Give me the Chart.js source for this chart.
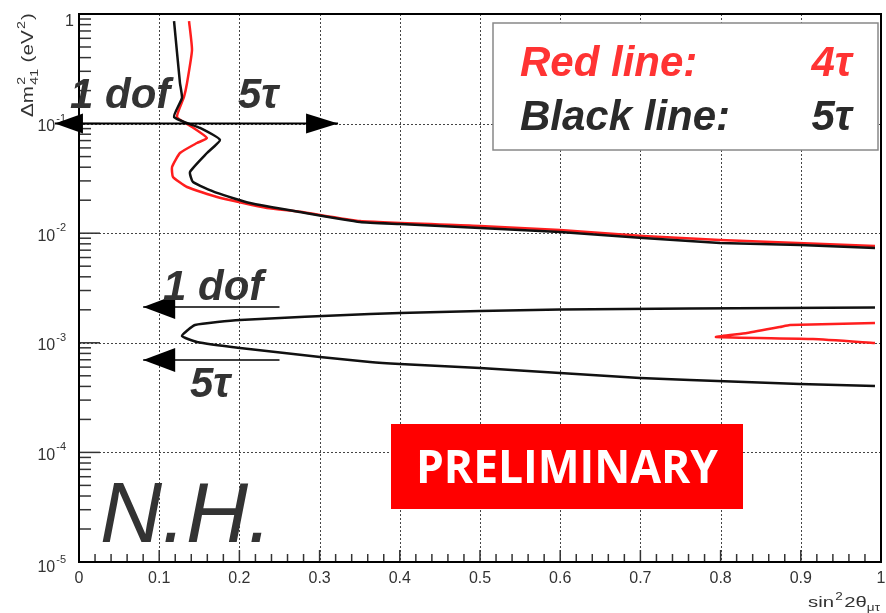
<!DOCTYPE html>
<html>
<head>
<meta charset="utf-8">
<script src="https://cdn.jsdelivr.net/npm/chart.js@4"></script>
<style>
  body { margin: 0; background: #fff; }
  canvas { display: block; }
</style>
</head>
<body>
<canvas id="limitChart" width="886" height="613"></canvas>
<script>
// 5 tau (black) and 4 tau (red) contours
const blackUpperX = [0.1185, 0.1259, 0.1284, 0.1185, 0.1509, 0.1758, 0.1596, 0.1384, 0.1421, 0.1721, 0.2132, 0.2756, 0.3504, 0.4002, 0.5, 0.5998, 0.7032, 0.7993, 0.899, 0.9925];
const blackUpperY = [0.863, 0.2346, 0.1713, 0.1149, 0.0912, 0.0709, 0.0539, 0.0362, 0.0293, 0.0233, 0.01886, 0.0156, 0.01265, 0.01213, 0.01115, 0.01025, 0.00904, 0.00814, 0.0078, 0.00733];

const redUpperX = [0.1372, 0.1409, 0.1347, 0.1309, 0.1222, 0.1409, 0.1596, 0.1471, 0.1259, 0.116, 0.1172, 0.1347, 0.1721, 0.2344, 0.2756, 0.3504, 0.5, 0.5998, 0.7032, 0.7993, 0.9925];
const redUpperY = [0.863, 0.469, 0.2346, 0.1749, 0.1148, 0.0931, 0.0739, 0.0665, 0.0539, 0.0402, 0.0326, 0.0264, 0.0214, 0.017, 0.0157, 0.0129, 0.01163, 0.0107, 0.00943, 0.00867, 0.00764];

const blackLowerX = [0.9925, 0.7618, 0.5998, 0.5, 0.4002, 0.3628, 0.2007, 0.1446, 0.1284, 0.1471, 0.2007, 0.3005, 0.3628, 0.4002, 0.5, 0.5998, 0.6995, 0.7618, 0.899, 0.9925];
const blackLowerY = [0.002099, 0.002056, 0.002013, 0.00195, 0.00187, 0.001832, 0.001616, 0.001454, 0.001154, 0.001017, 0.000897, 0.000742, 0.000668, 0.000641, 0.000589, 0.00053, 0.000477, 0.000458, 0.000421, 0.000403];

const redLowerX = [0.9925, 0.8865, 0.874, 0.8329, 0.7943, 0.9152, 0.9925];
const redLowerY = [0.001517, 0.001454, 0.001394, 0.001229, 0.001129, 0.001083, 0.000996];

const xTickLabels = ["0", "0.1", "0.2", "0.3", "0.4", "0.5", "0.6", "0.7", "0.8", "0.9", "1"];
const yDecadeExps = [0, -1, -2, -3, -4, -5];

const ARIAL = "'Liberation Sans', Arial, sans-serif";
const RED = "#ff1e1e";
const BLACK = "#111";

function pts(xs, ys) {
  return xs.map((x, i) => ({ x: x, y: ys[i] }));
}

function line(ctx, x1, y1, x2, y2) {
  ctx.beginPath();
  ctx.moveTo(x1, y1);
  ctx.lineTo(x2, y2);
  ctx.stroke();
}

function head(ctx, tipX, y, dir, len, half) {
  ctx.beginPath();
  ctx.moveTo(tipX, y);
  ctx.lineTo(tipX + dir * len, y - half);
  ctx.lineTo(tipX + dir * len, y + half);
  ctx.closePath();
  ctx.fill();
}

// draws a run of [text, size, dy] pieces, stretched to a given length
function richText(ctx, parts, x0, y0, length) {
  let natural = 0;
  parts.forEach(p => {
    ctx.font = p[1] + "px " + ARIAL;
    if (!p[3]) natural += ctx.measureText(p[0]).width + (p[4] || 0);
  });
  const k = length / natural;
  ctx.save();
  ctx.translate(x0, y0);
  ctx.scale(k, 1);
  let tx = 0;
  parts.forEach(p => {
    ctx.font = p[1] + "px " + ARIAL;
    ctx.fillText(p[0], tx, p[2]);
    if (!p[3]) tx += ctx.measureText(p[0]).width + (p[4] || 0);
  });
  ctx.restore();
}

const overlay = {
  id: "overlay",
  beforeDatasetsDraw(chart) {
    const { ctx, chartArea: a, scales: { x, y } } = chart;
    ctx.save();
    ctx.strokeStyle = "#444";
    ctx.lineWidth = 1;
    ctx.setLineDash([2, 2]);
    for (let i = 1; i < xTickLabels.length - 1; i++) {
      const px = Math.round(x.getPixelForValue(i / 10)) + 0.5;
      line(ctx, px, a.top, px, a.bottom);
    }
    yDecadeExps.slice(1, -1).forEach(e => {
      const py = Math.round(y.getPixelForValue(Math.pow(10, e))) + 0.5;
      line(ctx, a.left, py, a.right, py);
    });
    ctx.restore();
  },
  afterDatasetsDraw(chart) {
    const { ctx, chartArea: a, scales: { x, y } } = chart;
    ctx.save();

    // minor ticks
    ctx.strokeStyle = "#333";
    ctx.lineWidth = 1.5;
    for (let e = -5; e < 0; e++) {
      for (let k = 1; k < 10; k++) {
        const py = y.getPixelForValue(k * Math.pow(10, e));
        line(ctx, a.left, py, a.left + (k === 1 ? 21 : 12), py);
      }
    }
    for (let i = 1; i < 50; i++) {
      const px = x.getPixelForValue(i / 50);
      line(ctx, px, a.bottom, px, a.bottom - (i % 5 === 0 ? 12 : 8));
    }

    // frame
    ctx.strokeStyle = "#000";
    ctx.lineWidth = 2;
    ctx.strokeRect(a.left, a.top, a.right - a.left, a.bottom - a.top);

    // y tick labels
    ctx.fillStyle = "#333";
    ctx.textAlign = "right";
    ctx.textBaseline = "middle";
    yDecadeExps.forEach(e => {
      const py = y.getPixelForValue(Math.pow(10, e));
      if (e === 0) {
        ctx.font = "16px " + ARIAL;
        ctx.fillText("1", 74, py + 8);
        return;
      }
      const cy = e === -5 ? py + 6 : py + 3;
      const sup = String(e);
      ctx.font = "11px " + ARIAL;
      const sw = ctx.measureText(sup).width;
      ctx.fillText(sup, 66, cy - 8);
      ctx.font = "16px " + ARIAL;
      ctx.fillText("10", 66 - sw - 1, cy);
    });

    // axis titles
    ctx.textAlign = "left";
    ctx.textBaseline = "alphabetic";
    ctx.fillStyle = "#333";
    richText(ctx, [["sin", 15, 0, false, 1], ["2", 10, -7, false, 1], ["2\u03b8", 15, 0], ["\u03bc\u03c4", 10, 4]], 808, 607, 72);

    ctx.save();
    ctx.translate(33, 117);
    ctx.rotate(-Math.PI / 2);
    richText(ctx, [["\u0394m", 16, 0, false, 1], ["2", 11, -8, true], ["41", 11, 5, false, 5],
      ["(eV", 16, 0, false, 1], ["2", 11, -8, false, 1], [")", 16, 0]], 0, 0, 104);
    ctx.restore();

    // arrows
    ctx.strokeStyle = "#000";
    ctx.fillStyle = "#000";
    ctx.lineWidth = 2;
    const ay1 = y.getPixelForValue(0.1);
    const l1 = x.getPixelForValue(-0.03), r1 = x.getPixelForValue(0.323);
    line(ctx, l1, ay1, r1, ay1);
    head(ctx, l1, ay1, 1, 28, 10);
    head(ctx, r1, ay1, -1, 32, 10);
    ctx.lineWidth = 1.6;
    [0.002121, 0.000697].forEach(v => {
      const py = y.getPixelForValue(v);
      const l = x.getPixelForValue(0.08), r = x.getPixelForValue(0.25);
      line(ctx, l, py, r, py);
      head(ctx, l, py, 1, 32, 12);
    });

    // annotation texts
    ctx.fillStyle = "#333";
    ctx.font = "italic bold 42px " + ARIAL;
    ctx.fillText("1 dof", 70, 108);
    ctx.fillText("5\u03c4", 238, 108);
    ctx.fillText("1 dof", 163, 300);
    ctx.fillText("5\u03c4", 190, 397);

    // legend box
    ctx.fillStyle = "#fff";
    ctx.fillRect(493, 23, 385, 127);
    ctx.strokeStyle = "#888";
    ctx.lineWidth = 1.5;
    ctx.strokeRect(493, 23, 385, 127);
    ctx.font = "italic bold 42px " + ARIAL;
    ctx.fillStyle = "#ff3333";
    ctx.fillText("Red line:", 520, 76);
    ctx.textAlign = "right";
    ctx.fillText("4\u03c4", 852, 76);
    ctx.fillStyle = "#2a2a2a";
    ctx.fillText("5\u03c4", 852, 130);
    ctx.textAlign = "left";
    ctx.fillText("Black line:", 520, 130);

    // N.H.
    ctx.fillStyle = "#333";
    ctx.font = "italic 86px " + ARIAL;
    ctx.fillText("N.H.", 100, 542);

    // PRELIMINARY badge
    ctx.fillStyle = "#ff0000";
    ctx.fillRect(391, 424, 352, 85);
    ctx.fillStyle = "#fff";
    ctx.font = "bold 46px 'Open Sans', sans-serif";
    const w = ctx.measureText("PRELIMINARY").width;
    const sx = Math.min(1, 302 / w);
    ctx.save();
    ctx.translate(567, 483);
    ctx.scale(sx, 1);
    ctx.textAlign = "center";
    ctx.fillText("PRELIMINARY", 0, 0);
    ctx.restore();

    ctx.restore();
  }
};

const chart = new Chart(document.getElementById("limitChart"), {
  type: "scatter",
  data: {
    datasets: [
      { data: pts(blackUpperX, blackUpperY), borderColor: BLACK },
      { data: pts(blackLowerX, blackLowerY), borderColor: BLACK },
      { data: pts(redUpperX, redUpperY), borderColor: RED },
      { data: pts(redLowerX, redLowerY), borderColor: RED }
    ].map(d => Object.assign(d, { showLine: true, pointRadius: 0, borderWidth: 2.5, tension: 0.15, fill: false }))
  },
  options: {
    responsive: false,
    animation: false,
    layout: { padding: { left: 0, right: 5, top: 14, bottom: 0 } },
    plugins: { legend: { display: false }, tooltip: { enabled: false } },
    scales: {
      x: {
        type: "linear",
        min: 0,
        max: 1,
        grid: { display: false, drawTicks: false },
        border: { display: false },
        ticks: {
          stepSize: 0.1,
          padding: 7,
          color: "#333",
          font: { family: ARIAL, size: 16 },
          maxRotation: 0,
          callback: (v, i) => xTickLabels[i]
        },
        afterFit: s => {
          s.height = 51;
          s.paddingLeft = 0;
          s.paddingRight = 0;
        }
      },
      y: {
        type: "logarithmic",
        min: 1e-5,
        max: 1,
        grid: { display: false, drawTicks: false },
        border: { display: false },
        ticks: { display: false },
        afterFit: s => { s.width = 79; }
      }
    }
  },
  plugins: [overlay]
});
</script>
</body>
</html>
